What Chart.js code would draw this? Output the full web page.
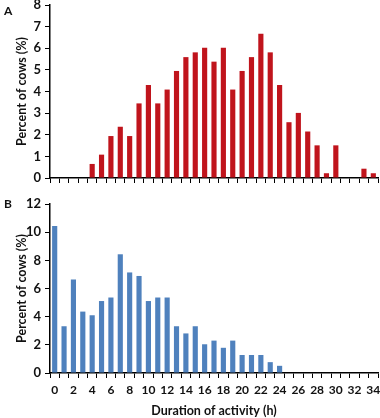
<!DOCTYPE html>
<html>
<head>
<meta charset="utf-8">
<script src="https://cdn.jsdelivr.net/npm/chart.js@4"></script>
<style>
  body { margin: 0; background: #fff; }
  #wrap { position: relative; width: 380px; height: 418px; }
  .panel { position: absolute; left: 0; width: 380px; }
  .tag { position: absolute; left: 4px; font: bold 12px Lato, sans-serif; color: #111; }
</style>
</head>
<body>
<div id="wrap">
  <div class="panel" style="top:0;height:190px"><canvas id="chartA"></canvas></div>
  <div class="panel" style="top:190px;height:228px"><canvas id="chartB"></canvas></div>
  <div class="tag" style="top:3px">A</div>
  <div class="tag" style="top:196px">B</div>
</div>
<script>
  const hours = [];
  for (let h = 0; h <= 34; h++) hours.push(String(h));

  // panel A (% of cows)
  const durationA = [0, 0, 0, 0, 0.65, 1.08, 1.94, 2.37, 1.94, 3.45, 4.3, 3.45, 4.09, 4.95, 5.59, 5.81,
    6.02, 5.38, 6.02, 4.09, 4.95, 5.59, 6.67, 5.81, 4.3, 2.58, 3.01, 2.15, 1.51, 0.22, 1.51, 0, 0, 0.43, 0.22];
  // panel B (% of cows)
  const durationB = [10.43, 3.32, 6.64, 4.36, 4.1, 5.11, 5.36, 8.43, 7.14, 6.89, 5.11, 5.36, 5.36, 3.32, 2.81, 3.32,
    2.04, 2.3, 1.79, 2.3, 1.28, 1.28, 1.28, 0.77, 0.51, 0, 0, 0, 0, 0, 0, 0, 0, 0, 0];

  const textColor = "#111";
  const fontFam = "Lato, sans-serif";

  function makeChart(canvasId, values, color, yMax, yStep, showX, xHeight, padTop) {
    const ctx = document.getElementById(canvasId).getContext("2d");
    return new Chart(ctx, {
      type: "bar",
      data: {
        labels: hours,
        datasets: [{ data: values, backgroundColor: color, barPercentage: 0.55, categoryPercentage: 1 }]
      },
      options: {
        responsive: true,
        maintainAspectRatio: false,
        animation: false,
        layout: { padding: { top: padTop, right: 2, bottom: 0, left: 0 } },
        plugins: { legend: { display: false }, tooltip: { enabled: false } },
        scales: {
          x: {
            offset: true,
            border: { color: "#000", width: 1.5 },
            grid: { offset: true, drawOnChartArea: false, drawTicks: true, tickLength: 5, color: "#000", lineWidth: 1 },
            ticks: {
              display: showX,
              autoSkip: false,
              maxRotation: 0,
              padding: 5,
              color: textColor,
              font: { family: fontFam, size: 12, weight: "bold" },
              callback: (v, i) => (i % 2 === 0 ? hours[i] : "")
            },
            title: {
              display: showX,
              text: "Duration of activity (h)",
              color: textColor,
              padding: { top: 0, bottom: 0 },
              font: { family: fontFam, size: 12.5, weight: "bold" }
            },
            afterFit: (s) => { s.height = xHeight; s.paddingLeft = 0; s.paddingRight = 0; }
          },
          y: {
            min: 0,
            max: yMax,
            border: { color: "#000", width: 1.5 },
            grid: { drawOnChartArea: false, drawTicks: true, tickLength: 5, color: "#000" },
            ticks: {
              stepSize: yStep,
              padding: 4,
              color: textColor,
              font: { family: fontFam, size: 13, weight: "bold" }
            },
            title: {
              display: true,
              text: "Percent of cows (%)",
              color: textColor,
              padding: { top: 14, bottom: 0 },
              font: { family: fontFam, size: 12.5, weight: "bold" }
            },
            afterFit: (s) => { s.width = 50; s.paddingTop = 0; s.paddingBottom = 0; }
          }
        }
      }
    });
  }

  makeChart("chartA", durationA, "#C0141C", 8, 1, false, 12, 5);
  makeChart("chartB", durationB, "#4F81BD", 12, 2, true, 45, 14);
</script>
</body>
</html>
